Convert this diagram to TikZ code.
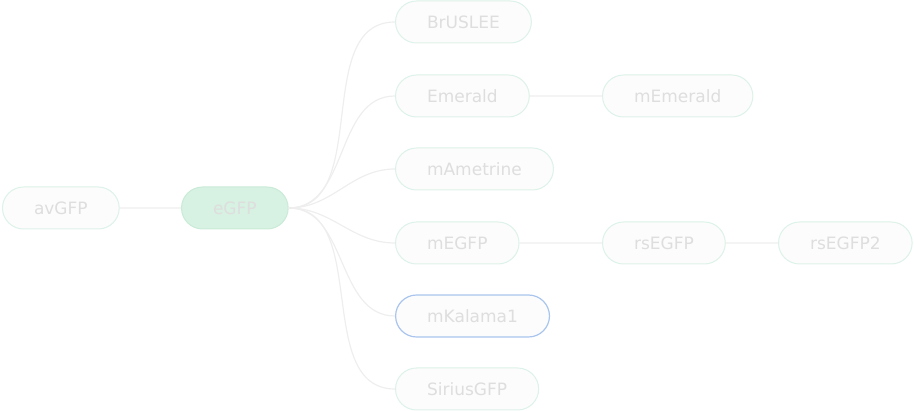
\documentclass[tikz,border=0pt]{standalone}
\usepackage{fontspec}
\setmainfont{DejaVu Sans}
\usetikzlibrary{shapes.misc}

\definecolor{txtgray}{HTML}{DEDEDE}
\definecolor{mintline}{HTML}{DDF2E8}
\definecolor{boxfill}{HTML}{FCFCFC}
\definecolor{greenfill}{HTML}{D7F1E2}
\definecolor{greenline}{HTML}{C9EBD7}
\definecolor{blueline}{HTML}{A9C5EE}
\definecolor{edgegray}{HTML}{EEEEEE}

\tikzset{
  gfp/.style={rounded rectangle, draw=mintline, fill=boxfill, line width=1pt,
    minimum height=42pt, inner xsep=30.5pt, inner ysep=0pt, anchor=west,
    text=txtgray, font=\fontsize{17}{17}\selectfont},
  gfproot/.style={gfp, draw=greenline, fill=greenfill},
  gfpsel/.style={gfp, draw=blueline, line width=1.2pt},
  lineage/.style={draw=edgegray, line width=1.2pt},
}

\begin{document}
\begin{tikzpicture}[x=1pt,y=-1pt]
  \useasboundingbox (0,0) rectangle (914,411);

  \node[gfp] (avGFP) at (2,208) {avGFP};
  \node[gfproot] (eGFP) at (181,208) {eGFP};

  \node[gfp] (BrUSLEE) at (395,22) {BrUSLEE};
  \node[gfp] (Emerald) at (395,96) {Emerald};
  \node[gfp] (mEmerald) at (602,96) {mEmerald};
  \node[gfp] (mAmetrine) at (395,169) {mAmetrine};
  \node[gfp] (mEGFP) at (395,243) {mEGFP};
  \node[gfp] (rsEGFP) at (602,243) {rsEGFP};
  \node[gfp] (rsEGFP2) at (778,243) {rsEGFP2};
  \node[gfpsel] (mKalama1) at (395,316) {mKalama1};
  \node[gfp] (SiriusGFP) at (395,389) {SiriusGFP};

  \draw[lineage] (avGFP) -- (eGFP);
  \foreach \child in {BrUSLEE,Emerald,mAmetrine,mEGFP,mKalama1,SiriusGFP}
    \draw[lineage] (eGFP.east) to[out=0,in=180] (\child.west);
  \draw[lineage] (Emerald) -- (mEmerald);
  \draw[lineage] (mEGFP) -- (rsEGFP);
  \draw[lineage] (rsEGFP) -- (rsEGFP2);
\end{tikzpicture}
\end{document}
